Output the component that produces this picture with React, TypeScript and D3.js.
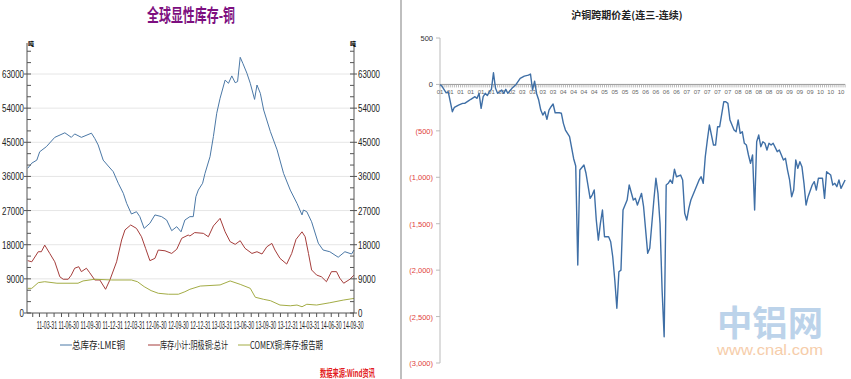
import React from 'react';
import * as d3 from 'd3';

const W = 851;
const H = 379;

// ---------- Left chart: 全球显性库存-铜 ----------
const leftTitle = '全球显性库存-铜';
const legendNames = ['总库存:LME铜', '库存小计:阴极铜:总计', 'COMEX铜:库存:报告期'];
const sourceText = '数据来源:Wind资讯';
const unitLabel = '吨';

const lmeStock: [string, number][] = [
  ['2011-01-10', 38150], ['2011-01-27', 39500], ['2011-02-17', 40300], ['2011-03-01', 42500],
  ['2011-03-29', 43850], ['2011-05-03', 46300], ['2011-06-14', 47500], ['2011-07-11', 46300],
  ['2011-07-25', 47200], ['2011-08-22', 46300], ['2011-10-03', 47400], ['2011-10-17', 46000],
  ['2011-10-31', 44300], ['2011-11-21', 40300], ['2011-12-12', 38750], ['2012-01-02', 37250],
  ['2012-01-23', 34200], ['2012-02-13', 31550], ['2012-02-27', 28900], ['2012-03-18', 26100],
  ['2012-04-08', 26700], ['2012-04-22', 25400], ['2012-05-10', 22300], ['2012-06-03', 23650],
  ['2012-06-24', 25850], ['2012-07-22', 25400], ['2012-08-12', 24500], ['2012-09-02', 21700],
  ['2012-09-23', 22750], ['2012-10-11', 21400], ['2012-10-27', 24500], ['2012-11-17', 25400],
  ['2012-12-01', 25400], ['2012-12-12', 30650], ['2012-12-22', 32400], ['2013-01-09', 34200],
  ['2013-01-19', 36800], ['2013-02-09', 41200], ['2013-02-23', 46500], ['2013-03-09', 52650],
  ['2013-03-23', 56600], ['2013-04-13', 61400], ['2013-04-27', 60550], ['2013-05-11', 62500],
  ['2013-05-25', 60700], ['2013-06-04', 61000], ['2013-06-15', 67400], ['2013-06-26', 65800],
  ['2013-07-13', 63200], ['2013-07-27', 60550], ['2013-08-14', 56300], ['2013-08-24', 60100],
  ['2013-09-07', 57900], ['2013-09-21', 53500], ['2013-10-19', 47800], ['2013-11-16', 43000],
  ['2013-12-13', 36800], ['2014-01-10', 32400], ['2014-02-07', 28900], ['2014-02-28', 25850],
  ['2014-03-06', 27150], ['2014-03-20', 26700], ['2014-04-09', 24050], ['2014-05-07', 18400],
  ['2014-05-27', 16600], ['2014-06-24', 16150], ['2014-07-29', 14700], ['2014-08-26', 16150],
  ['2014-09-23', 15550], ['2014-10-03', 16600],
];

const shfeStock: [string, number][] = [
  ['2011-01-10', 13800], ['2011-01-27', 13500], ['2011-02-23', 16150], ['2011-03-08', 16150],
  ['2011-03-22', 17900], ['2011-04-12', 15700], ['2011-05-03', 13500], ['2011-05-24', 9550],
  ['2011-06-07', 8900], ['2011-06-28', 8900], ['2011-07-11', 10000], ['2011-07-25', 11800],
  ['2011-08-11', 12200], ['2011-08-22', 10900], ['2011-09-12', 11800], ['2011-09-26', 10600],
  ['2011-10-17', 8700], ['2011-11-07', 8700], ['2011-12-01', 6250], ['2011-12-19', 8700],
  ['2012-01-16', 13500], ['2012-02-06', 19250], ['2012-02-20', 21900], ['2012-03-15', 23200],
  ['2012-04-08', 22300], ['2012-04-29', 20100], ['2012-05-16', 17050], ['2012-06-03', 13800],
  ['2012-06-24', 14400], ['2012-07-08', 16600], ['2012-08-05', 16400], ['2012-09-02', 15700],
  ['2012-09-23', 16800], ['2012-10-14', 19700], ['2012-11-10', 20550], ['2012-11-17', 20300],
  ['2012-12-07', 21200], ['2013-01-12', 21000], ['2013-02-02', 20100], ['2013-02-23', 22950],
  ['2013-03-23', 24950], ['2013-04-13', 21400], ['2013-05-04', 18800], ['2013-05-25', 18100],
  ['2013-06-15', 19050], ['2013-07-05', 17050], ['2013-08-03', 15700], ['2013-08-24', 16150],
  ['2013-09-14', 15550], ['2013-10-04', 17450], ['2013-10-25', 18350], ['2013-11-07', 16600],
  ['2013-11-28', 14400], ['2013-12-26', 12900], ['2014-01-16', 15700], ['2014-02-03', 19400],
  ['2014-02-28', 21400], ['2014-03-13', 20100], ['2014-03-27', 15700], ['2014-04-09', 11350],
  ['2014-04-30', 10000], ['2014-05-20', 9550], ['2014-06-10', 8250], ['2014-07-01', 10900],
  ['2014-07-22', 10900], ['2014-08-05', 9150], ['2014-08-21', 7850], ['2014-09-16', 8900],
  ['2014-10-03', 10000],
];

const comexStock: [string, number][] = [
  ['2011-01-10', 6500], ['2011-01-27', 6500], ['2011-02-23', 8000], ['2011-03-22', 8250],
  ['2011-05-12', 7850], ['2011-08-08', 7850], ['2011-08-29', 8450], ['2011-10-17', 8900],
  ['2011-12-26', 8700], ['2012-03-18', 8700], ['2012-04-12', 8250], ['2012-05-10', 6950],
  ['2012-06-08', 5900], ['2012-07-08', 5200], ['2012-08-19', 4950], ['2012-09-30', 4950],
  ['2012-10-27', 5600], ['2012-11-17', 6250], ['2012-12-30', 7100], ['2013-03-23', 7400],
  ['2013-05-04', 8450], ['2013-06-15', 7550], ['2013-07-27', 6500], ['2013-08-17', 4150],
  ['2013-09-21', 3600], ['2013-10-19', 3250], ['2013-11-28', 2100], ['2014-01-10', 1900],
  ['2014-02-07', 2100], ['2014-02-28', 1650], ['2014-03-20', 2300], ['2014-04-30', 2100],
  ['2014-06-24', 2700], ['2014-08-19', 3400], ['2014-10-03', 3850],
];

const leftYTicks = [0, 9000, 18000, 27000, 36000, 45000, 54000, 63000];
const leftXLabelDates = [
  '2011-03-31', '2011-06-30', '2011-09-30', '2011-12-31', '2012-03-31', '2012-06-30',
  '2012-09-30', '2012-12-31', '2013-03-31', '2013-06-30', '2013-09-30', '2013-12-31',
  '2014-03-31', '2014-06-30', '2014-09-30',
];
const leftColors = ['#4B78A6', '#A53D3B', '#A3AC45'];

// ---------- Right chart: 沪铜跨期价差(连三-连续) ----------
const rightTitle = '沪铜跨期价差(连三-连续)';
const watermarkCn = '中铝网';
const watermarkUrl = 'www.cnal.com';
const rightXLabels = [
  '01', '01', '01', '01', '01', '01', '02', '02', '03', '03', '03', '03', '04', '04', '04', '04',
  '05', '05', '05', '05', '06', '06', '06', '06', '07', '07', '07', '07', '07', '08', '08', '08',
  '08', '09', '09', '09', '09', '10', '10', '10',
];
const rightYTicks = [500, 0, -500, -1000, -1500, -2000, -2500, -3000];
// [trading-day index, spread]
const spread: [number, number][] = [
  [0, 0], [1, -20], [3, -90], [4, -79], [5, -186], [6, -294], [7, -246], [9, -222], [11, -204],
  [12, -204], [14, -175], [15, -160], [17, -132], [18, -150], [19, -96], [20, -257], [21, -132],
  [22, -96], [23, -120], [24, -79], [25, -53], [26, 126], [27, -42], [28, -96], [29, -79],
  [30, -60], [31, -96], [32, -53], [33, -96], [34, -68], [35, -42], [37, 0], [39, 66], [41, 90],
  [43, 100], [44, 112], [45, -60], [46, 35], [47, -100], [48, -168], [49, -276], [50, -330],
  [51, -294], [52, -376], [53, -276], [54, -240], [55, -211], [56, -305], [58, -305], [59, -310],
  [60, -419], [61, -491], [63, -563], [65, -800], [66, -879], [67, -1945], [68, -922], [70, -868],
  [71, -957], [73, -1227], [74, -1191], [75, -1137], [76, -1460], [77, -1676], [78, -1496],
  [79, -1353], [80, -1640], [82, -1640], [83, -1694], [84, -1856], [85, -2106], [86, -2411],
  [87, -2017], [88, -2000], [89, -1353], [91, -1245], [92, -1083], [94, -1245], [95, -1227],
  [96, -1299], [98, -1173], [99, -1317], [101, -1819], [102, -1765], [104, -1245], [105, -1011],
  [106, -1173], [107, -1496], [108, -2214], [109, -2717], [110, -1083], [111, -1065], [112, -1029],
  [113, -1065], [114, -914], [115, -994], [117, -976], [118, -1029], [119, -1388], [120, -1460],
  [121, -1334], [122, -1245], [124, -1137], [126, -1029], [127, -994], [128, -1065], [129, -779],
  [130, -599], [131, -437], [133, -653], [134, -653], [135, -455], [136, -455], [138, -186],
  [139, -186], [140, -204], [141, -383], [143, -491], [144, -509], [145, -383], [146, -527],
  [147, -509], [148, -634], [149, -653], [150, -760], [151, -850], [152, -760], [153, -1353],
  [154, -617], [155, -545], [156, -671], [157, -617], [158, -634], [159, -706], [160, -634],
  [161, -653], [162, -634], [164, -724], [165, -706], [167, -814], [168, -796], [169, -922],
  [170, -1029], [171, -1209], [172, -1137], [173, -814], [174, -904], [175, -832], [176, -886],
  [177, -1065], [178, -1299], [179, -1209], [181, -1083], [182, -1047], [183, -1137], [184, -1011],
  [186, -1011], [187, -1227], [188, -940], [190, -976], [191, -1083], [192, -1065], [193, -1101],
  [194, -1029], [195, -1119], [197, -1029],
];

const parse = d3.timeParse('%Y-%m-%d');
const fmtDate = d3.timeFormat('%y-%m-%d');
const cjk = '"Noto Sans CJK SC", "Noto Sans", sans-serif';
const latin = '"Liberation Sans", Arial, sans-serif';

export default function App() {
  // Left scales
  const xL = d3.scaleTime()
    .domain([parse('2011-01-07')!, parse('2014-10-03')!])
    .range([27, 354]);
  const yL = d3.scaleLinear().domain([0, 63000]).range([313, 74]);
  const yTop = 43;
  const lineL = d3.line<[string, number]>()
    .x((d) => xL(parse(d[0])!))
    .y((d) => yL(d[1]));
  const leftSeries = [lmeStock, shfeStock, comexStock];
  const minorTicks = d3.range(0, 72000, 3000).filter((v) => yL(v) >= yTop);
  const monthTicks = d3.timeMonth
    .range(parse('2011-02-01')!, parse('2014-11-01')!)
    .map((d) => d3.timeDay.offset(d, -1));

  // Right scales
  const xR = d3.scaleLinear().domain([0, 195]).range([440, 841]);
  const yR = d3.scaleLinear().domain([500, -3000]).range([38, 363]);
  const lineR = d3.line<[number, number]>()
    .x((d) => xR(d[0]))
    .y((d) => yR(d[1]));
  const fmtNum = d3.format(',');
  const fmtR = (v: number) => (v < 0 ? `(${fmtNum(-v)})` : `${v}`);
  const lastIdx = spread[spread.length - 1][0];

  const legendX = [60, 148, 238];
  const legendW = [53, 68, 73];

  return (
    <svg width={W} height={H} style={{ position: 'absolute', left: 0, top: 0, background: '#fff' }}>
      <rect x={0} y={0} width={W} height={H} fill="#fff" />
      {/* ===== Left chart ===== */}
      <text x={147} y={22} fontFamily={cjk} fontWeight="bold" fontSize={18} fill="#7D0F80"
        textLength={88} lengthAdjust="spacingAndGlyphs">{leftTitle}</text>

      {/* gridlines */}
      {leftYTicks.filter((v) => v > 0).map((v) => (
        <line key={'g' + v} x1={27} x2={354} y1={yL(v)} y2={yL(v)} stroke="#e6e6e6" strokeWidth={1} />
      ))}

      {/* series */}
      {leftSeries.map((s, i) => (
        <path key={'s' + i} d={lineL(s) || ''} fill="none" stroke={leftColors[i]} strokeWidth={1} />
      ))}

      {/* axes */}
      <line x1={27} x2={27} y1={yTop} y2={313} stroke="#555" strokeWidth={1} />
      <line x1={354} x2={354} y1={yTop} y2={313} stroke="#555" strokeWidth={1} />
      <line x1={27} x2={354} y1={313} y2={313} stroke="#555" strokeWidth={1} />
      {minorTicks.map((v) => (
        <g key={'mt' + v}>
          <line x1={27} x2={31} y1={yL(v)} y2={yL(v)} stroke="#555" />
          <line x1={350} x2={354} y1={yL(v)} y2={yL(v)} stroke="#555" />
        </g>
      ))}
      {leftYTicks.map((v) => {
        const s = String(v);
        return (
          <g key={'yt' + v}>
            <line x1={24} x2={27} y1={yL(v)} y2={yL(v)} stroke="#555" />
            <line x1={354} x2={357} y1={yL(v)} y2={yL(v)} stroke="#555" />
            <text x={24} y={yL(v) + 4} textAnchor="end" fontFamily={latin} fontSize={10} fill="#222"
              textLength={s.length * 4.4} lengthAdjust="spacingAndGlyphs">{s}</text>
            <text x={358} y={yL(v) + 4} fontFamily={latin} fontSize={10} fill="#222"
              textLength={s.length * 4.4} lengthAdjust="spacingAndGlyphs">{s}</text>
          </g>
        );
      })}
      <text x={28} y={46} fontFamily={cjk} fontSize={6} fontWeight="bold" fill="#000">{unitLabel}</text>
      <text x={350} y={46} fontFamily={cjk} fontSize={6} fontWeight="bold" fill="#000">{unitLabel}</text>
      {monthTicks.map((d, i) => (
        <line key={'xt' + i} x1={xL(d)} x2={xL(d)} y1={313} y2={317} stroke="#555" />
      ))}
      {leftXLabelDates.map((ds) => {
        const x = xL(parse(ds)!);
        return (
          <text key={'xl' + ds} x={x} y={329} textAnchor="middle" fontFamily={latin} fontSize={10} fill="#222"
            textLength={20.5} lengthAdjust="spacingAndGlyphs">{fmtDate(parse(ds)!)}</text>
        );
      })}

      {/* legend */}
      {legendNames.map((n, i) => (
        <g key={'lg' + i}>
          <line x1={legendX[i]} x2={legendX[i] + 12} y1={345} y2={345} stroke={leftColors[i]} strokeWidth={1} />
          <text x={legendX[i] + 12} y={349} fontFamily={cjk} fontSize={10} fill="#222"
            textLength={legendW[i]} lengthAdjust="spacingAndGlyphs">{n}</text>
        </g>
      ))}
      <text x={320} y={377} fontFamily={cjk} fontSize={10} fontWeight="bold" fill="#E31B23"
        textLength={55} lengthAdjust="spacingAndGlyphs">{sourceText}</text>

      {/* ===== Right chart ===== */}
      <line x1={401} x2={401} y1={0} y2={H} stroke="#aaa" strokeWidth={1.5} />
      <text x={627} y={19} textAnchor="middle" fontFamily={cjk} fontWeight="bold" fontSize={10} fill="#222">
        {rightTitle}
      </text>

      {/* watermark */}
      <text x={717} y={336} fontFamily={cjk} fontWeight="bold" fontSize={35} fill="#BCD3EA"
        textLength={106} lengthAdjust="spacingAndGlyphs">{watermarkCn}</text>
      <text x={717} y={355} fontFamily={latin} fontSize={15} fill="#F6CDAA"
        textLength={106} lengthAdjust="spacingAndGlyphs">{watermarkUrl}</text>

      {/* y axis */}
      <line x1={440} x2={440} y1={yR(500)} y2={yR(-3000)} stroke="#bbb" strokeWidth={1} />
      {rightYTicks.map((v) => (
        <g key={'ry' + v}>
          <line x1={436} x2={440} y1={yR(v)} y2={yR(v)} stroke="#bbb" />
          <text x={433} y={yR(v) + 3} textAnchor="end" fontFamily={latin} fontSize={7.5}
            fill={v < 0 ? '#E0403C' : '#333'}>{fmtR(v)}</text>
        </g>
      ))}

      {/* x axis at zero */}
      <line x1={440} x2={xR(lastIdx)} y1={yR(0)} y2={yR(0)} stroke="#999" strokeWidth={1} />
      {d3.range(0, lastIdx + 1).map((i) => (
        <line key={'rt' + i} x1={xR(i)} x2={xR(i)} y1={yR(0)} y2={yR(0) + 3} stroke="#aaa" strokeWidth={0.8} />
      ))}
      {rightXLabels.map((l, k) => (
        <text key={'rxl' + k} x={xR(k * 5)} y={yR(0) + 10} textAnchor="middle" fontFamily={latin}
          fontSize={6} fill="#666">{l}</text>
      ))}

      <path d={lineR(spread) || ''} fill="none" stroke="#3F6FA6" strokeWidth={1.4} strokeLinejoin="round" />
    </svg>
  );
}
